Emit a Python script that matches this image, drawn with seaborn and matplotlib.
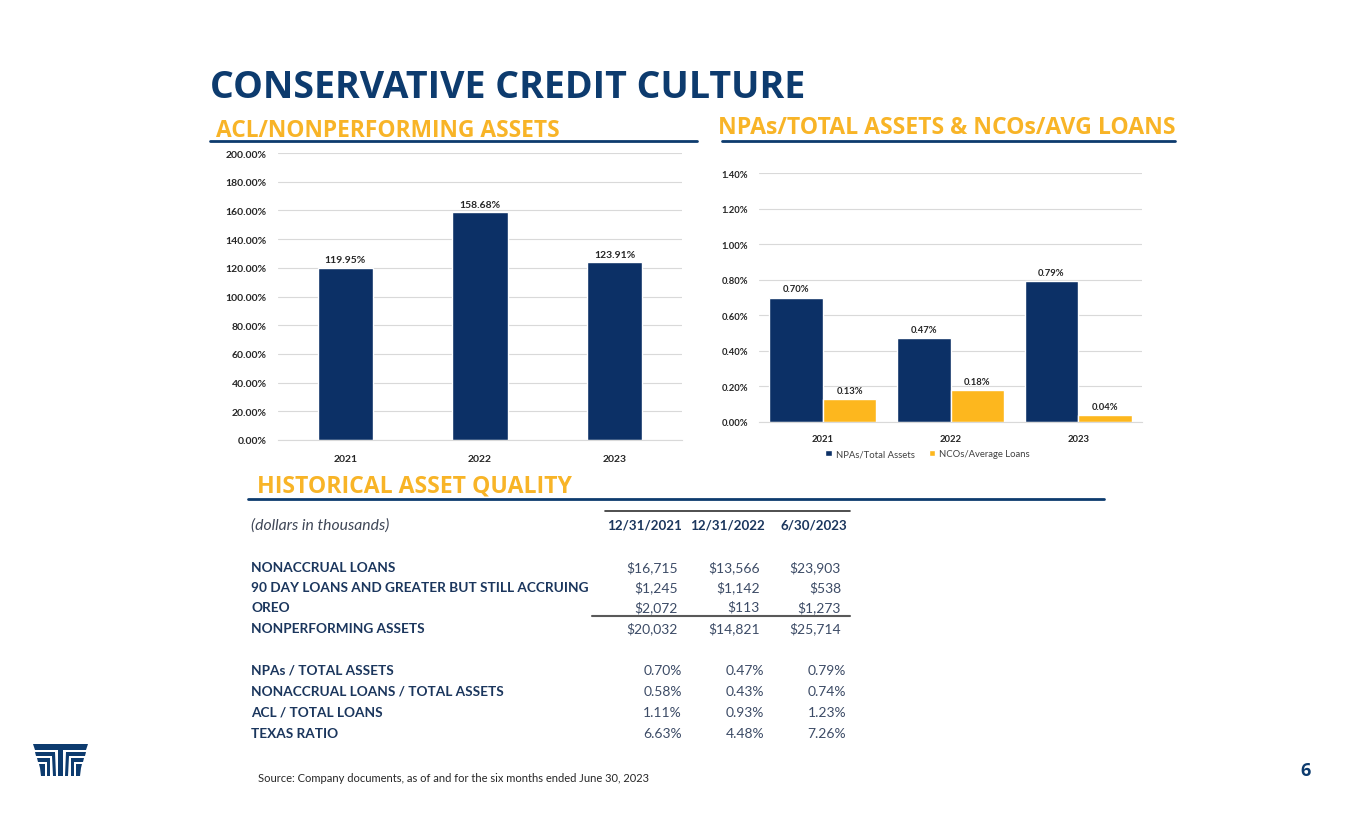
import pandas as pd
import matplotlib
matplotlib.use("Agg")
import matplotlib.pyplot as plt
import seaborn as sns
from matplotlib.lines import Line2D
from matplotlib.patches import Polygon
from matplotlib.ticker import FuncFormatter, FixedLocator

# Data
years = ["2021", "2022", "2023"]
acl_npa = [119.95, 158.68, 123.91]
npa_assets = [0.70, 0.47, 0.79]
nco_loans = [0.13, 0.18, 0.04]

col_heads = ["12/31/2021", "12/31/2022", "6/30/2023"]
row_labels = ["NONACCRUAL LOANS", "90 DAY LOANS AND GREATER BUT STILL ACCRUING", "OREO",
              "NONPERFORMING ASSETS", "NPAs / TOTAL ASSETS", "NONACCRUAL LOANS / TOTAL ASSETS",
              "ACL / TOTAL LOANS", "TEXAS RATIO"]
row_values = [["$16,715", "$13,566", "$23,903"],
              ["$1,245", "$1,142", "$538"],
              ["$2,072", "$113", "$1,273"],
              ["$20,032", "$14,821", "$25,714"],
              ["0.70%", "0.47%", "0.79%"],
              ["0.58%", "0.43%", "0.74%"],
              ["1.11%", "0.93%", "1.23%"],
              ["6.63%", "4.48%", "7.26%"]]

NAVY = "#0C3066"
TITLE_NAVY = "#0D3B6E"
GOLD = "#FDB71E"
SUB_GOLD = "#F8B427"
GRID = "#D9D9D9"

sns.set_style("white")
plt.rcParams["font.family"] = ["Lato", "DejaVu Sans"]

W, H = 1365, 829
fx = lambda px: px / W
fy = lambda py: 1 - py / H

fig = plt.figure(figsize=(13.65, 8.29), dpi=100)

# Headings
fig.text(fx(210), fy(98), "CONSERVATIVE CREDIT CULTURE", fontsize=27, weight="bold",
         family="Open Sans", color=TITLE_NAVY, va="baseline")
fig.text(fx(216), fy(137), "ACL/NONPERFORMING ASSETS", fontsize=16.4, weight="bold",
         family="Open Sans", color=SUB_GOLD, va="baseline")
fig.text(fx(718), fy(134), "NPAs/TOTAL ASSETS & NCOs/AVG LOANS", fontsize=16.6, weight="bold",
         family="Open Sans", color=SUB_GOLD, va="baseline")
fig.text(fx(257), fy(492), "HISTORICAL ASSET QUALITY", fontsize=16.6, weight="bold",
         family="Open Sans", color=SUB_GOLD, va="baseline")
for x0, x1, y in [(210, 697, 142), (722, 1175, 142), (248, 1104, 500)]:
    fig.add_artist(Line2D([fx(x0), fx(x1)], [fy(y), fy(y)], color=TITLE_NAVY, lw=2))


def style_axis(ax, ymax, step, fmt, fs, xpad):
    ax.set_ylim(0, ymax)
    ax.set_xlim(-0.5, 2.5)
    ax.yaxis.set_major_locator(FixedLocator([i * step for i in range(int(round(ymax / step)) + 1)]))
    ax.yaxis.set_major_formatter(FuncFormatter(lambda v, p: fmt.format(v)))
    ax.grid(axis="y", color=GRID, lw=0.8)
    ax.set_axisbelow(True)
    for s in ["top", "right", "left"]:
        ax.spines[s].set_visible(False)
    ax.spines["bottom"].set_color(GRID)
    ax.set_xlabel("")
    ax.set_ylabel("")
    ax.tick_params(axis="y", length=0, labelsize=fs, pad=8)
    ax.tick_params(axis="x", length=0, labelsize=fs, pad=xpad)
    ax.set_xticks(range(3), minor=False)
    ax.set_xticks([-0.5, 0.5, 1.5, 2.5], minor=True)
    ax.tick_params(axis="x", which="minor", length=4, color=GRID)
    for lab in ax.get_xticklabels() + ax.get_yticklabels():
        lab.set_fontweight("bold")
        lab.set_color("#262626")


# Left chart
ax1 = fig.add_axes([fx(278), fy(441), (682 - 278) / W, (441 - 154) / H])
df1 = pd.DataFrame({"year": years, "value": acl_npa})
sns.barplot(data=df1, x="year", y="value", color=NAVY, width=0.41, saturation=1, ax=ax1)
style_axis(ax1, 200, 20, "{:.2f}%", 7.5, 10)
for c in ax1.containers:
    ax1.bar_label(c, labels=[f"{v:.2f}%" for v in acl_npa], padding=2.5, fontsize=7.5,
                  weight="bold", color="#262626")

# Right chart
ax2 = fig.add_axes([fx(759), fy(423), (1142 - 759) / W, (423 - 174) / H])
df2 = pd.DataFrame({
    "year": years * 2,
    "value": npa_assets + nco_loans,
    "series": ["NPAs/Total Assets"] * 3 + ["NCOs/Average Loans"] * 3,
})
sns.barplot(data=df2, x="year", y="value", hue="series", palette=[NAVY, GOLD],
            width=0.84, saturation=1, ax=ax2)
style_axis(ax2, 1.4, 0.2, "{:.2f}%", 6.8, 9)
for c, vals in zip(ax2.containers, [npa_assets, nco_loans]):
    ax2.bar_label(c, labels=[f"{v:.2f}%" for v in vals], padding=3, fontsize=6.8,
                  weight="bold", color="#262626")
ax2.legend(loc="upper center", bbox_to_anchor=(0.44, -0.075), ncol=2, frameon=False,
           fontsize=6.8, handlelength=0.7, handleheight=0.7, columnspacing=1.5,
           handletextpad=0.4, labelcolor="#404040")

# Table
LBL = "#1B365D"
VAL = "#3C4B66"
head_x = [682, 765, 847]
money_x = [678, 760, 841]
pct_x = [682, 764, 846]
label_x = 251
fig.text(fx(label_x), fy(530), "(dollars in thousands)", fontsize=11.3, style="italic",
         color="#404858", va="baseline")
for x, h in zip(head_x, col_heads):
    fig.text(fx(x), fy(530), h, fontsize=9.6, weight="bold", color=LBL, ha="right", va="baseline")
fig.add_artist(Line2D([fx(605), fx(850)], [fy(512), fy(512)], color="#303030", lw=1.2))
fig.add_artist(Line2D([fx(592), fx(850)], [fy(617), fy(617)], color="#595959", lw=1.5))

row_y = [572, 592, 612, 633, 675, 696, 717, 738]
for i, (y, lab, vals) in enumerate(zip(row_y, row_labels, row_values)):
    fig.text(fx(label_x), fy(y), lab, fontsize=9.8, weight="bold", color=LBL, va="baseline")
    xs = money_x if i < 4 else pct_x
    for x, v in zip(xs, vals):
        fig.text(fx(x), fy(y), v, fontsize=10, color=VAL, ha="right", va="baseline")

fig.text(fx(258), fy(782), "Source: Company documents, as of and for the six months ended June 30, 2023",
         fontsize=8, color="#262626", va="baseline")
fig.text(fx(1300), fy(776), "6", fontsize=13, weight="bold", family="Open Sans",
         color=TITLE_NAVY, va="baseline")

# Logo (simple approximation)
logo = [
    [(33, 745), (88, 745), (86, 751), (35, 751)],
    [(35, 753), (55, 753), (56, 777), (53, 777), (52, 757), (36, 757)],
    [(37, 759), (50, 759), (50, 777), (47, 777), (47, 763), (38, 763)],
    [(39, 765), (45, 765), (45, 777), (41, 777), (40, 769)],
    [(86, 753), (66, 753), (65, 777), (68, 777), (69, 757), (85, 757)],
    [(84, 759), (71, 759), (71, 777), (74, 777), (74, 763), (83, 763)],
    [(82, 765), (76, 765), (76, 777), (80, 777), (81, 769)],
    [(58, 751), (63, 751), (63, 777), (58, 777)],
]
for pts in logo:
    fig.add_artist(Polygon([(fx(x), fy(y)) for x, y in pts], closed=True,
                           facecolor=TITLE_NAVY, edgecolor="none", transform=fig.transFigure))

fig.savefig("out.png", dpi=100, facecolor="white")
